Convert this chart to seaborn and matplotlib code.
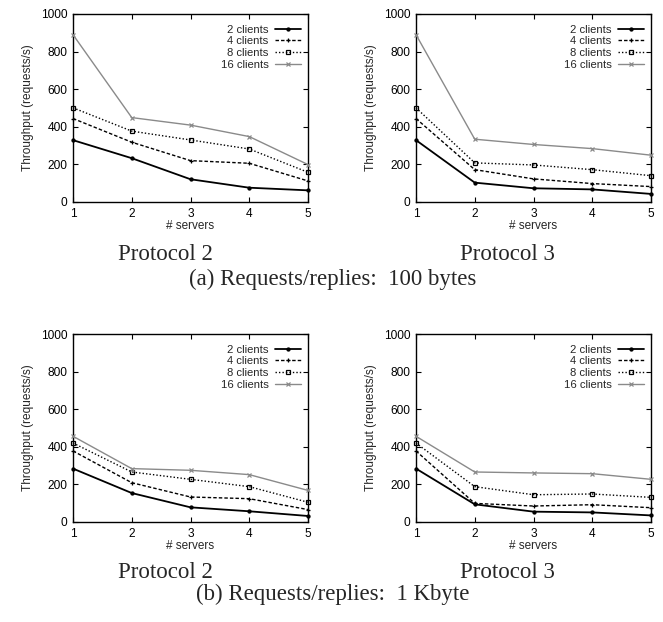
import matplotlib
matplotlib.use("Agg")
import matplotlib.pyplot as plt
import seaborn as sns
import pandas as pd

servers = [1, 2, 3, 4, 5]
series = ["2 clients", "4 clients", "8 clients", "16 clients"]

# (a) 100 bytes
p2_100 = {
    "2 clients": [329, 233, 121, 76, 62],
    "4 clients": [444, 318, 220, 206, 112],
    "8 clients": [501, 377, 330, 282, 158],
    "16 clients": [890, 449, 409, 348, 199],
}
p3_100 = {
    "2 clients": [329, 103, 73, 67, 43],
    "4 clients": [444, 172, 123, 98, 82],
    "8 clients": [501, 208, 197, 172, 140],
    "16 clients": [890, 334, 306, 284, 249],
}
# (b) 1 Kbyte
p2_1k = {
    "2 clients": [284, 154, 78, 57, 32],
    "4 clients": [378, 209, 133, 124, 66],
    "8 clients": [420, 266, 227, 188, 105],
    "16 clients": [456, 284, 275, 252, 168],
}
p3_1k = {
    "2 clients": [284, 94, 55, 51, 35],
    "4 clients": [378, 99, 85, 92, 76],
    "8 clients": [420, 188, 145, 149, 131],
    "16 clients": [456, 266, 261, 257, 227],
}

panel_titles = ["Protocol 2", "Protocol 3", "Protocol 2", "Protocol 3"]
captions = ["(a) Requests/replies:  100 bytes", "(b) Requests/replies:  1 Kbyte"]

styles = {
    "2 clients": dict(color="black", marker="o", markersize=2.2, linestyle="-", lw=1.3, mfc="black"),
    "4 clients": dict(color="black", marker="+", markersize=3.0, linestyle=(0, (2.5, 1.5)), lw=1.0, mfc="black"),
    "8 clients": dict(color="black", marker="s", markersize=3.0, linestyle=(0, (1, 1.5)), lw=1.0, mfc="none"),
    "16 clients": dict(color="#8a8a8a", marker="x", markersize=2.6, linestyle="-", lw=1.0, mfc="#8a8a8a"),
}

sns.set_style("ticks")
plt.rcParams["font.family"] = ["Liberation Sans", "DejaVu Sans"]

fig = plt.figure(figsize=(6.63, 6.22), dpi=100)
W, H = 663, 622
positions = [(73, 14), (416, 14), (73, 334), (416, 334)]
aw, ah = 235, 188
datasets = [p2_100, p3_100, p2_1k, p3_1k]

for (px, py), data in zip(positions, datasets):
    ax = fig.add_axes([px / W, 1 - (py + ah) / H, aw / W, ah / H])
    rows = []
    for s in series:
        for x, v in zip(servers, data[s]):
            rows.append({"servers": x, "throughput": v, "series": s})
    df = pd.DataFrame(rows)
    for s in series:
        st = styles[s]
        sns.lineplot(data=df[df["series"] == s], x="servers", y="throughput", ax=ax,
                     color=st["color"], marker=st["marker"], markersize=st["markersize"],
                     linestyle=st["linestyle"], lw=st["lw"], mfc=st["mfc"],
                     mec=st["color"], mew=0.9, label=s, errorbar=None, clip_on=False,
                     zorder=3)
    ax.set_xlim(1, 5)
    ax.set_ylim(0, 1000)
    ax.set_xticks(servers)
    ax.set_yticks([0, 200, 400, 600, 800, 1000])
    ax.tick_params(direction="in", length=3.5, width=0.8, labelsize=8.6,
                   top=True, right=True, pad=4, colors="black")
    for sp in ax.spines.values():
        sp.set_linewidth(1.0)
        sp.set_color("black")
    ax.set_xlabel("# servers", fontsize=8.5, labelpad=0)
    ax.set_ylabel("Throughput (requests/s)", fontsize=8.6, labelpad=5)
    h, l = ax.get_legend_handles_labels()
    ax.legend(h, l, loc="upper right", frameon=False, markerfirst=False, fontsize=8.1,
              handlelength=2.3, handletextpad=0.6, labelspacing=0.15,
              borderaxespad=0.2, bbox_to_anchor=(1.0, 0.98))

serif = ["Liberation Serif", "DejaVu Serif"]
fig.text(165 / W, 1 - 254 / H, panel_titles[0], ha="center", va="center", fontsize=16.5, family=serif)
fig.text(507 / W, 1 - 254 / H, panel_titles[1], ha="center", va="center", fontsize=16.5, family=serif)
fig.text(333 / W, 1 - 279 / H, captions[0], ha="center", va="center", fontsize=16.5, family=serif)
fig.text(165 / W, 1 - 572 / H, panel_titles[2], ha="center", va="center", fontsize=16.5, family=serif)
fig.text(507 / W, 1 - 572 / H, panel_titles[3], ha="center", va="center", fontsize=16.5, family=serif)
fig.text(333 / W, 1 - 594 / H, captions[1], ha="center", va="center", fontsize=16.5, family=serif)

fig.savefig("out.png", dpi=100)
